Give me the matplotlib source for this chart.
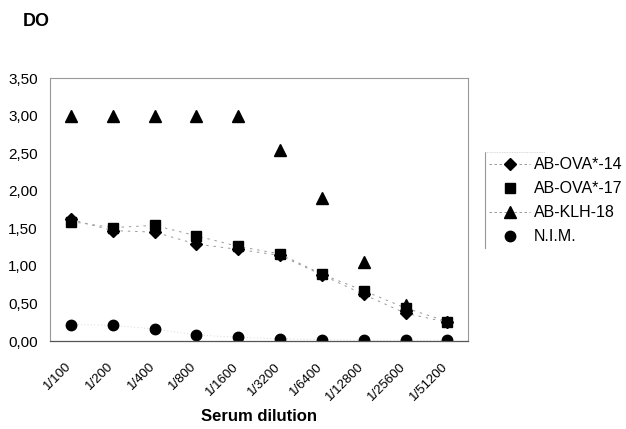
import numpy as np
import matplotlib.pyplot as plt
import matplotlib.transforms as mtransforms
from matplotlib.lines import Line2D
from matplotlib.ticker import FuncFormatter

plt.rcParams['font.family'] = ['Liberation Sans', 'DejaVu Sans']

# Data
dilutions = ['1/100', '1/200', '1/400', '1/800', '1/1600', '1/3200',
             '1/6400', '1/12800', '1/25600', '1/51200']
ova14 = [1.62, 1.47, 1.45, 1.29, 1.22, 1.14, 0.88, 0.62, 0.37, 0.25]
ova17 = [1.59, 1.51, 1.54, 1.40, 1.26, 1.16, 0.89, 0.67, 0.44, 0.26]
klh18 = [3.00, 3.00, 3.00, 3.00, 3.00, 2.54, 1.91, 1.05, 0.48, np.nan]
nim = [0.22, 0.21, 0.16, 0.08, 0.05, 0.03, 0.02, 0.01, 0.01, 0.01]
series_labels = ['AB-OVA*-14', 'AB-OVA*-17', 'AB-KLH-18', 'N.I.M.']

x = np.arange(len(dilutions))

fig = plt.figure(figsize=(6.26, 4.29), dpi=100)
ax = fig.add_axes([0.080, 0.205, 0.668, 0.613])

dash = (0, (2.5, 5))
ax.plot(x, ova14, marker='D', ms=6, mfc='black', mec='black', color='#999999', lw=0.7, ls=dash)
ax.plot(x, ova17, marker='s', ms=7.5, mfc='black', mec='black', color='#999999', lw=0.7, ls=dash)
ax.plot(x, klh18, marker='^', ms=8, mfc='black', mec='black', ls='none')
ax.plot(x, nim, marker='o', ms=7.5, mfc='black', mec='black', color='#c8c8c8', lw=0.6, ls=(0, (1, 3)))

ax.set_xlim(-0.5, len(dilutions) - 0.5)
ax.set_ylim(0, 3.5)
ax.set_yticks(np.arange(0, 3.51, 0.5))
ax.yaxis.set_major_formatter(FuncFormatter(lambda v, p: f'{v:.2f}'.replace('.', ',')))
ax.set_xticks(x)
ax.set_xticklabels(dilutions, rotation=45, ha='right', rotation_mode='anchor')
ax.tick_params(axis='y', length=0, labelsize=11, pad=9)
ax.tick_params(axis='x', length=0, labelsize=9.5, pad=14)
shift = mtransforms.ScaledTranslation(-0.06, 0, fig.dpi_scale_trans)
for lab in ax.get_xticklabels():
    lab.set_transform(lab.get_transform() + shift)

for side in ['top', 'right', 'left']:
    ax.spines[side].set_color('#999999')
    ax.spines[side].set_linestyle((0, (1, 1)))
    ax.spines[side].set_linewidth(0.8)
ax.spines['bottom'].set_color('#555555')
ax.spines['bottom'].set_linewidth(0.9)

# axis titles
fig.text(0.414, 0.030, 'Serum dilution', fontsize=12, fontweight='bold',
         ha='center', va='center')
fig.text(0.036, 0.949, 'DO', fontsize=13, fontweight='bold', va='center')

# legend with only a left border
handles = [
    Line2D([], [], marker='D', ms=6, color='#888888', lw=0.6, ls=(0, (3, 3)), mfc='black', mec='black'),
    Line2D([], [], marker='s', ms=7.5, ls='none', mfc='black', mec='black'),
    Line2D([], [], marker='^', ms=8, color='#888888', lw=0.6, ls=(0, (3, 3)), mfc='black', mec='black'),
    Line2D([], [], marker='o', ms=7.5, ls='none', mfc='black', mec='black'),
]
fig.legend(handles, series_labels, loc='upper left', bbox_to_anchor=(0.781, 0.633),
           frameon=False, fontsize=11.5, handlelength=2.6, handletextpad=0.2,
           labelspacing=0.56, borderaxespad=0, borderpad=0)
fig.add_artist(Line2D([0.775, 0.775], [0.422, 0.646], transform=fig.transFigure,
                      color='#999999', lw=0.8))
fig.add_artist(Line2D([0.775, 0.87], [0.646, 0.646], transform=fig.transFigure,
                      color='#cccccc', lw=0.6, ls=(0, (1, 1))))

fig.savefig('out.png', dpi=100)
